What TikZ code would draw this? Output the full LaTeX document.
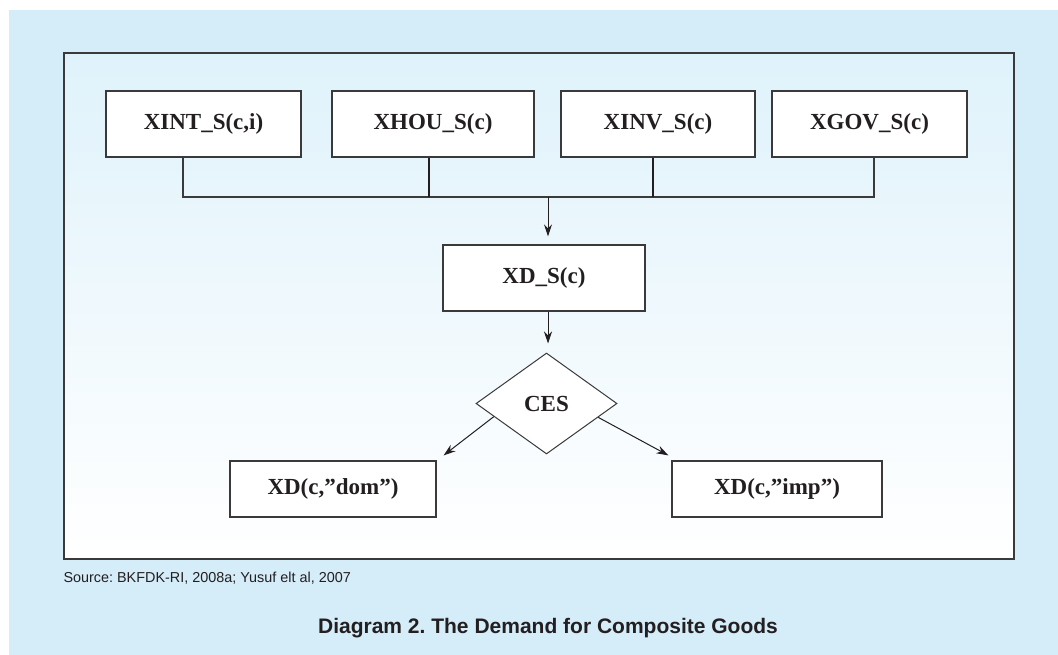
\documentclass[tikz,border=0pt]{standalone}
\usepackage{fontspec}
\setmainfont{Liberation Serif}
\setsansfont{Liberation Sans}
\usetikzlibrary{arrows.meta,shapes.geometric}
\definecolor{pagebg}{HTML}{D5ECF9}
\definecolor{frametop}{HTML}{DFF2FB}
\definecolor{ink}{HTML}{231F20}
\definecolor{edge}{HTML}{3A3A3A}
\tikzset{
	gbox/.style={draw=edge, line width=1.2pt, fill=white, inner sep=0pt, text=ink,
		font=\fontsize{23}{27}\selectfont\bfseries},
	cesbox/.style={diamond, draw=edge, line width=1pt, fill=white, inner sep=0pt,
		minimum width=141pt, minimum height=101pt, text=ink,
		font=\fontsize{23}{27}\selectfont\bfseries},
	arr/.style={draw=ink, line width=1pt, -{Stealth[length=12pt,width=8pt]}}
}
\frenchspacing

\begin{document}
\begin{tikzpicture}[x=1pt, y=-1pt]
			%%%%% START %%%%%
			\useasboundingbox (0, 0) rectangle (1058, 655);
			\fill[white] (0, 0) rectangle (1058, 655);
			\fill[pagebg] (9, 10) rectangle (1058, 655);
			
			\shade[top color=frametop, bottom color=white] (64, 53) rectangle (1014, 559);
			\draw[edge, line width=1.4pt] (64, 53) rectangle (1014, 559);
			
			\node[gbox, minimum width=195pt, minimum height=66pt] (xint) at (203.5, 124) {XINT\_S(c,i)};
			\node[gbox, minimum width=202pt, minimum height=66pt] (xhou) at (433, 124) {XHOU\_S(c)};
			\node[gbox, minimum width=194pt, minimum height=66pt] (xinv) at (658, 124) {XINV\_S(c)};
			\node[gbox, minimum width=195pt, minimum height=66pt] (xgov) at (869.5, 124) {XGOV\_S(c)};
			
			\coordinate (bus) at (548, 197);
			\draw[edge, line width=1.1pt] ([xshift=-20.5]xint.south) |- (bus);
			\draw[edge, line width=1.1pt] ([xshift=4.5]xgov.south) |- (bus);
			\draw[ink, line width=2.6pt] ([xshift=-4]xhou.south) -- ([xshift=-4]xhou.south |- bus);
			\draw[ink, line width=2.6pt] ([xshift=-5]xinv.south) -- ([xshift=-5]xinv.south |- bus);
			
			\node[gbox, minimum width=202pt, minimum height=66pt] (xds) at (544, 278) {XD\_S(c)};
			\draw[arr, shorten >=8pt] (bus) -- (bus |- xds.north);
			
			\node[cesbox] (ces) at (546.5, 403.5) {CES};
			\draw[arr, shorten >=9pt] ([xshift=4]xds.south) -- ([xshift=4]xds.south |- ces.north);
			
			\node[gbox, minimum width=206pt, minimum height=56pt] (xdom) at (333, 489) {XD(c,”dom”)};
			\node[gbox, minimum width=210pt, minimum height=56pt] (ximp) at (777, 489) {XD(c,”imp”)};
			\draw[arr] (ces.194) -- ([shift={(7,-5)}]xdom.north east);
			\draw[arr] (ces.-15) -- ([shift={(-3,-5)}]ximp.north west);
			
			\node[anchor=west, text=ink, font=\sffamily\fontsize{14.4}{16}\selectfont] (src) at (60, 578) {Source: BKFDK-RI, 2008a; Yusuf elt al, 2007};
			\node[text=ink, font=\sffamily\bfseries\fontsize{21}{24}\selectfont] (title) at (548, 628) {Diagram 2. The Demand for Composite Goods};
			%%%%% END %%%%%
		\end{tikzpicture}
\end{document}
